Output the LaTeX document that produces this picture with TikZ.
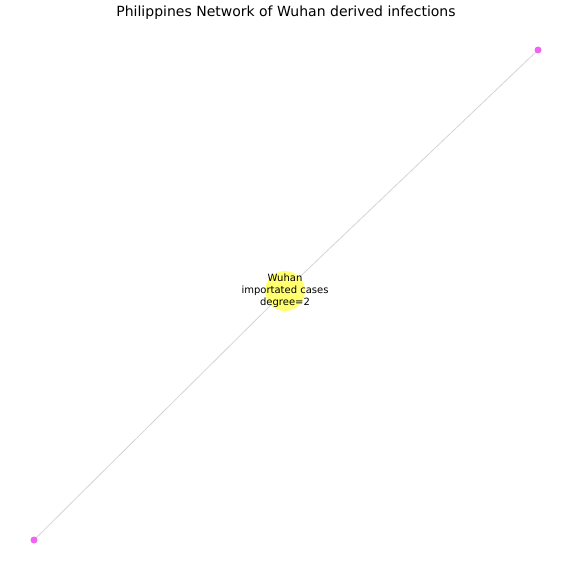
\documentclass[tikz,border=0pt]{standalone}
\usepackage{fontspec}
\setmainfont{DejaVu Sans}
\usetikzlibrary{backgrounds}
\definecolor{hubyellow}{RGB}{255,255,112}
\definecolor{casepink}{RGB}{240,100,240}
\definecolor{edgegray}{RGB}{212,212,212}

\begin{document}
\begin{tikzpicture}[x=1pt,y=-1pt]
\tikzstyle{hub}=[circle,fill=hubyellow,inner sep=0pt,minimum size=40pt]
\tikzstyle{hubtext}=[align=center,font=\fontsize{10}{12}\selectfont,inner sep=0pt]
\tikzstyle{case}=[circle,fill=casepink,inner sep=0pt,minimum size=7pt]
\tikzstyle{link}=[edgegray,line width=0.8pt]
\useasboundingbox (0,0) rectangle (572,575);
\node (title) at (286,13) {\fontsize{14}{16}\selectfont Philippines Network of Wuhan derived infections};
\node [hub] (wuhan) at (285,291) {};
\node [hubtext] (wuhantext) at (285,291) {Wuhan\\importated cases\\degree=2};
\node [case] (caseA) at (538,50) {};
\node [case] (caseB) at (34,540) {};
\begin{scope}[on background layer]
\draw [link] (wuhan.center) -- (caseA.center);
\draw [link] (wuhan.center) -- (caseB.center);
\end{scope}
\end{tikzpicture}
\end{document}
